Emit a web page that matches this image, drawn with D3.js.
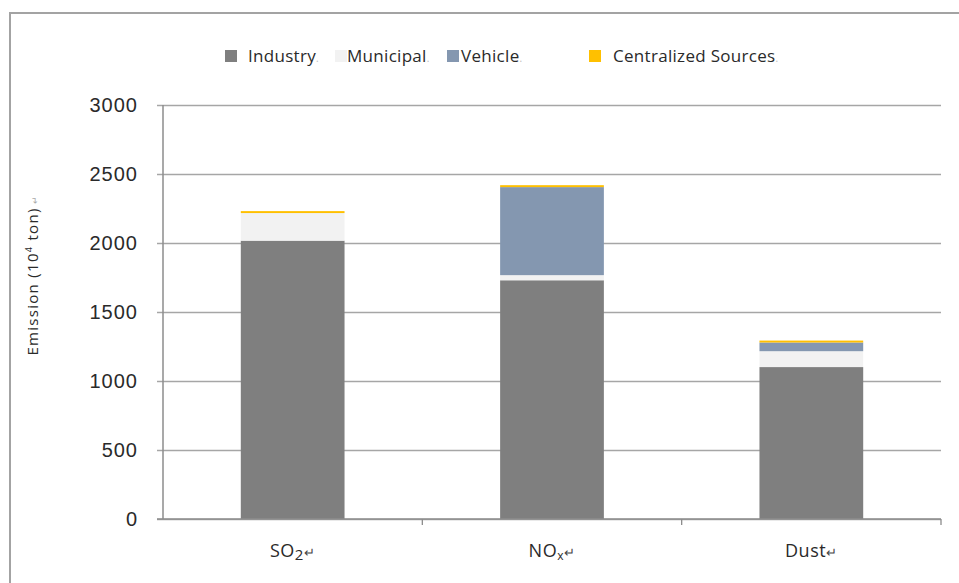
<!DOCTYPE html>
<html>
<head>
<meta charset="utf-8">
<script src="https://cdn.jsdelivr.net/npm/d3@7"></script>
<style>
  html, body { margin: 0; padding: 0; background: #fff; }
  svg { display: block; font-family: "Open Sans", "Liberation Sans", sans-serif; }
</style>
</head>
<body>
<svg id="chart" width="959" height="583"></svg>
<script>
// Pollutant categories along the x axis
const categories = ["SO2", "NOx", "Dust"];

// Emission by source, 10^4 ton
const industry    = [2017, 1730, 1101];
const municipal   = [200, 37, 115];
const vehicle     = [0, 638, 63];
const centralized = [14, 14, 14];

const seriesNames = ["Industry", "Municipal", "Vehicle", "Centralized Sources"];
const seriesColors = ["#7f7f7f", "#f2f2f2", "#8497b0", "#ffc000"];
const yTicks = [0, 500, 1000, 1500, 2000, 2500, 3000];

const rows = categories.map((c, i) => ({
  category: c,
  "Industry": industry[i],
  "Municipal": municipal[i],
  "Vehicle": vehicle[i],
  "Centralized Sources": centralized[i]
}));

const svg = d3.select("#chart");
const plot = { left: 163, right: 941, top: 105, bottom: 519 };

// Outer frame
svg.append("path")
  .attr("d", `M10,590 L10,13 L970,13`)
  .attr("fill", "none")
  .attr("stroke", "#a3a3a3")
  .attr("stroke-width", 2);

const x = d3.scaleBand()
  .domain(categories)
  .range([plot.left, plot.right])
  .paddingInner(0.6)
  .paddingOuter(0.3);

const y = d3.scaleLinear()
  .domain([0, 3000])
  .range([plot.bottom, plot.top]);

// Horizontal gridlines with left ticks
const yAxis = d3.axisLeft(y)
  .tickValues(yTicks)
  .tickSize(-(plot.right - plot.left))
  .tickSizeOuter(0)
  .tickPadding(25)
  .tickFormat(d3.format("d"));

const gy = svg.append("g")
  .attr("transform", `translate(${plot.left},0)`)
  .call(yAxis);
gy.select(".domain").remove();
gy.selectAll(".tick line")
  .attr("x1", -6)
  .attr("stroke", "#a6a6a6")
  .attr("stroke-width", 1.3);
gy.selectAll(".tick text")
  .attr("fill", "#2a2a2a")
  .style("font-size", "20px")
  .style("letter-spacing", "1px");

// Vertical axis line
svg.append("line")
  .attr("x1", plot.left).attr("x2", plot.left)
  .attr("y1", plot.top).attr("y2", plot.bottom)
  .attr("stroke", "#8c8c8c").attr("stroke-width", 1.5);

// Stacked bars
const stack = d3.stack().keys(seriesNames);
const layers = stack(rows);

svg.append("g").selectAll("g")
  .data(layers)
  .join("g")
  .attr("fill", (d, i) => seriesColors[i])
  .selectAll("rect")
  .data(d => d)
  .join("rect")
  .attr("x", d => x(d.data.category))
  .attr("width", x.bandwidth())
  .attr("y", d => y(d[1]))
  .attr("height", d => Math.max(0, y(d[0]) - y(d[1])));

// Category axis along the bottom, with ticks between categories
const step = x.step();
const boundaries = [1, 2, 3].map(i => plot.left + step * i);
svg.append("line")
  .attr("x1", plot.left - 6).attr("x2", plot.right)
  .attr("y1", plot.bottom).attr("y2", plot.bottom)
  .attr("stroke", "#8c8c8c").attr("stroke-width", 1.5);
svg.append("g").selectAll("line")
  .data(boundaries)
  .join("line")
  .attr("x1", d => d).attr("x2", d => d)
  .attr("y1", plot.bottom).attr("y2", plot.bottom + 6)
  .attr("stroke", "#8c8c8c").attr("stroke-width", 1.3);

// Category labels with chemical subscripts
const labelParts = {
  "SO2":  [["SO", 0], ["2", 1]],
  "NOx":  [["NO", 0], ["x", 1]],
  "Dust": [["Dust", 0]]
};
const xl = svg.append("g").selectAll("text")
  .data(categories)
  .join("text")
  .attr("x", d => x(d) + x.bandwidth() / 2)
  .attr("y", 557)
  .attr("text-anchor", "middle")
  .attr("fill", "#2a2a2a")
  .style("font-size", "18px")
  .style("letter-spacing", "0.5px");
xl.each(function(d) {
  const t = d3.select(this);
  labelParts[d].forEach(([s, sub]) => {
    if (sub) {
      t.append("tspan").text(s)
        .style("font-size", d === "NOx" ? "12px" : "15px")
        .attr("dy", 3);
    } else {
      t.append("tspan").text(s);
    }
  });
  t.append("tspan").text("↵")
    .style("font-size", "13px")
    .attr("dy", labelParts[d].some(p => p[1]) ? -3 : 0)
    .attr("fill", "#444");
});

// Y axis title
const yt = svg.append("text")
  .attr("transform", "translate(38,275) rotate(-90)")
  .attr("text-anchor", "middle")
  .attr("fill", "#2a2a2a")
  .style("font-size", "15px")
  .style("letter-spacing", "1.3px");
yt.append("tspan").text("Emission (10");
yt.append("tspan").text("4").style("font-size", "9px").attr("dy", -6);
yt.append("tspan").text(" ton)").attr("dy", 6);
yt.append("tspan").text(" ↵").style("font-size", "9px").attr("fill", "#aaa");

// Legend
const legendItems = [
  { name: "Industry",            mark: 225, text: 248 },
  { name: "Municipal",           mark: 335, text: 347 },
  { name: "Vehicle",             mark: 447, text: 461 },
  { name: "Centralized Sources", mark: 589, text: 613 }
];
const lg = svg.append("g").selectAll("g")
  .data(legendItems)
  .join("g");
lg.append("rect")
  .attr("x", d => d.mark)
  .attr("y", 50)
  .attr("width", 12)
  .attr("height", 12)
  .attr("fill", (d, i) => seriesColors[i]);
const lt = lg.append("text")
  .attr("x", d => d.text)
  .attr("y", 62)
  .attr("fill", "#2a2a2a")
  .style("font-size", "17px")
  .style("letter-spacing", "0.3px");
lt.append("tspan").text(d => d.name);
lt.append("tspan").text(".")
  .style("font-size", "10px")
  .attr("fill", "#bbb");
</script>
</body>
</html>
